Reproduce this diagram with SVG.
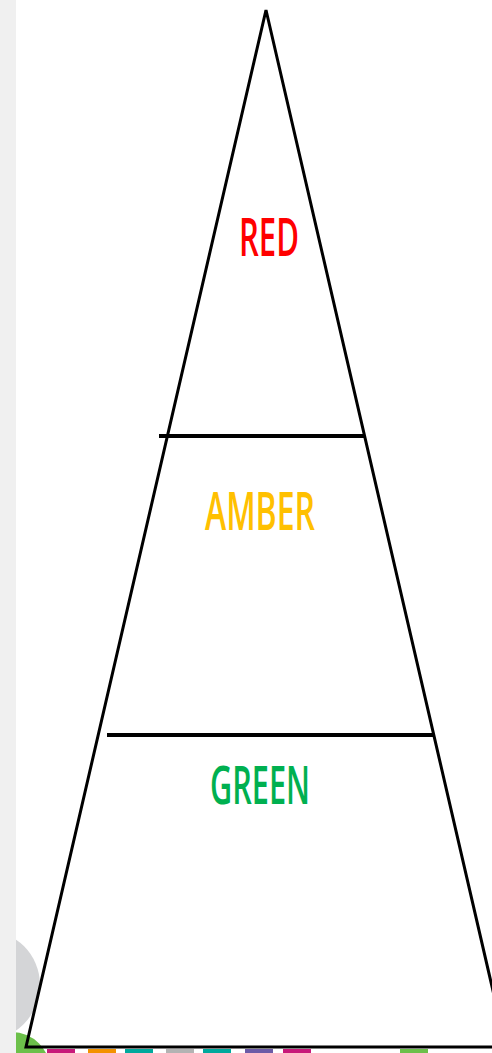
<svg xmlns="http://www.w3.org/2000/svg" width="492" height="1053" viewBox="0 0 492 1053">
  <style>
    .edge { fill: none; stroke: #000; stroke-width: 3; stroke-linejoin: miter; }
    .div { stroke: #000; stroke-width: 4; }
    .lbl { font-family: "Open Sans", "Liberation Sans", sans-serif; font-weight: 600; font-size: 52px; text-anchor: middle; }
  </style>
  <rect x="0" y="0" width="492" height="1053" fill="#ffffff"/>
  <g id="background">
    <circle cx="-15" cy="985" r="55" fill="#d4d5d7"/>
    <circle cx="12" cy="1070" r="38" fill="#6cc04a"/>
    <rect x="47" y="1049" width="28" height="4" fill="#c8197a"/>
    <rect x="88" y="1049" width="28" height="4" fill="#f39200"/>
    <rect x="125" y="1049" width="28" height="4" fill="#00a99d"/>
    <rect x="166" y="1049" width="28" height="4" fill="#b3b3b3"/>
    <rect x="203" y="1049" width="28" height="4" fill="#00a99d"/>
    <rect x="245" y="1049" width="28" height="4" fill="#6c5ba7"/>
    <rect x="283" y="1049" width="28" height="4" fill="#c8197a"/>
    <rect x="400" y="1049" width="28" height="4" fill="#6cc04a"/>
    <rect x="0" y="0" width="16" height="1053" fill="#f0f0f0"/>
  </g>
  <g id="pyramid">
    <polygon points="266,10 26,1047 506,1047" fill="#ffffff" class="edge"/>
  </g>
  <g id="connectors">
    <line class="div" x1="159" y1="436" x2="364" y2="436"/>
    <line class="div" x1="107" y1="735" x2="433" y2="735"/>
  </g>
  <g id="red">
    <text class="lbl" x="269" y="256" fill="#ff0000" textLength="60" lengthAdjust="spacingAndGlyphs">RED</text>
  </g>
  <g id="amber">
    <text class="lbl" x="260" y="530" fill="#ffc000" textLength="110" lengthAdjust="spacingAndGlyphs">AMBER</text>
  </g>
  <g id="green">
    <text class="lbl" x="260" y="804" fill="#00b050" textLength="100" lengthAdjust="spacingAndGlyphs">GREEN</text>
  </g>
</svg>
